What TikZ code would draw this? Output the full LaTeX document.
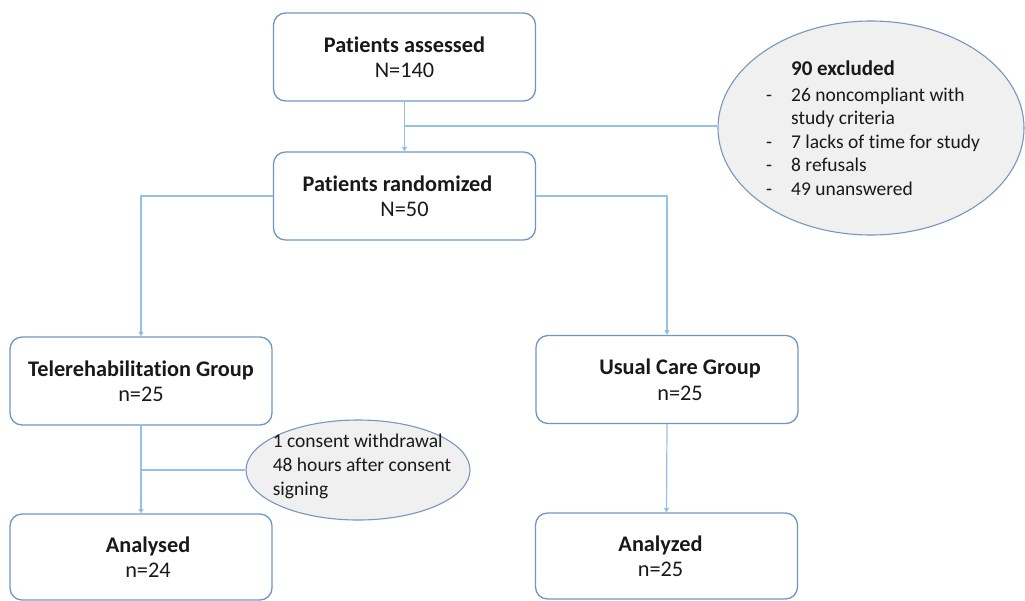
\documentclass[tikz,border=0pt]{standalone}
\usepackage{fontspec}
\setmainfont{Carlito}[Ligatures=NoCommon]
\usetikzlibrary{arrows.meta,shapes.geometric}
\definecolor{boxblue}{RGB}{110,150,195}
\definecolor{lineblue}{RGB}{150,192,230}
\definecolor{tipblue}{RGB}{90,150,215}
\definecolor{ellfill}{RGB}{240,240,240}
\definecolor{ellline}{RGB}{120,150,190}
\definecolor{txt}{RGB}{25,25,25}
\tikzset{
  x=1pt, y=-1pt,
  stepbox/.style={draw=boxblue, line width=1.3pt, rounded corners=12pt, minimum width=262pt, minimum height=88pt, align=center, text=txt, font=\fontsize{22.3}{25.5}\selectfont},
  ell/.style={ellipse, draw=ellline, line width=1.1pt, fill=ellfill},
  conn/.style={draw=lineblue, line width=1.2pt},
  arr/.style={conn, -{Triangle[width=5pt,length=4.5pt,fill=tipblue]}},
  ltxt/.style={align=left, text=txt, inner sep=0pt}
}
\newcommand{\shft}[1]{\hspace*{#1}}
\begin{document}
\begin{tikzpicture}
\useasboundingbox (0,0) rectangle (1025,600);
% boxes
\node[stepbox] (assess) at (404.5,57) {\textbf{Patients assessed}\\N=140};
\node[stepbox] (rand) at (404.5,196) {\shft{-14pt}\textbf{Patients randomized}\\N=50};
\node[stepbox] (tele) at (141,381) {\textbf{Telerehabilitation Group}\\n=25};
\node[stepbox] (usual) at (667,379.5) {\shft{26pt}\textbf{Usual Care Group}\\\shft{26pt}n=25};
\node[stepbox, minimum height=86pt] (anal1) at (141,557) {\shft{14pt}\textbf{Analysed}\\\shft{14pt}n=24};
\node[stepbox, minimum height=86pt] (anal2) at (666.5,556) {\shft{-12pt}\textbf{Analyzed}\\\shft{-12pt}n=25};
% exclusion ellipse
\node[ell, minimum width=306pt, minimum height=214pt] (excl) at (871,128) {};
\node[ltxt, font=\fontsize{19.5}{23.5}\selectfont] (excltext) at (873,131)
 {\begin{tabular}{@{}p{25pt}@{}l@{}}
  & {\fontsize{21}{23.5}\selectfont\textbf{90 excluded}}\\[2pt]
  - & 26 noncompliant with\\
    & study criteria\\
  - & 7 lacks of time for study\\
  - & 8 refusals\\
  - & 49 unanswered
  \end{tabular}};
% withdrawal ellipse
\node[ell, minimum width=224pt, minimum height=100pt] (withdraw) at (358,470) {};
\node[ltxt, font=\fontsize{19.5}{24}\selectfont] (withtext) at (362,466)
 {1 consent withdrawal\\48 hours after consent\\signing};
% connectors
\coordinate (j1) at (404.5,126);
\coordinate (j2) at (141,470);
\draw[arr] (assess.south) -- (rand.north);
\draw[conn] (j1) -- (j1 -| excl.west);
\draw[arr] (rand.west) -| (tele.north);
\draw[arr] (rand.east) -| (usual.north);
\draw[arr] (tele.south) -- (anal1.north);
\draw[conn] (j2) -- (j2 -| withdraw.west);
\draw[arr] (usual.south) -- (anal2.north);
\end{tikzpicture}
\end{document}
